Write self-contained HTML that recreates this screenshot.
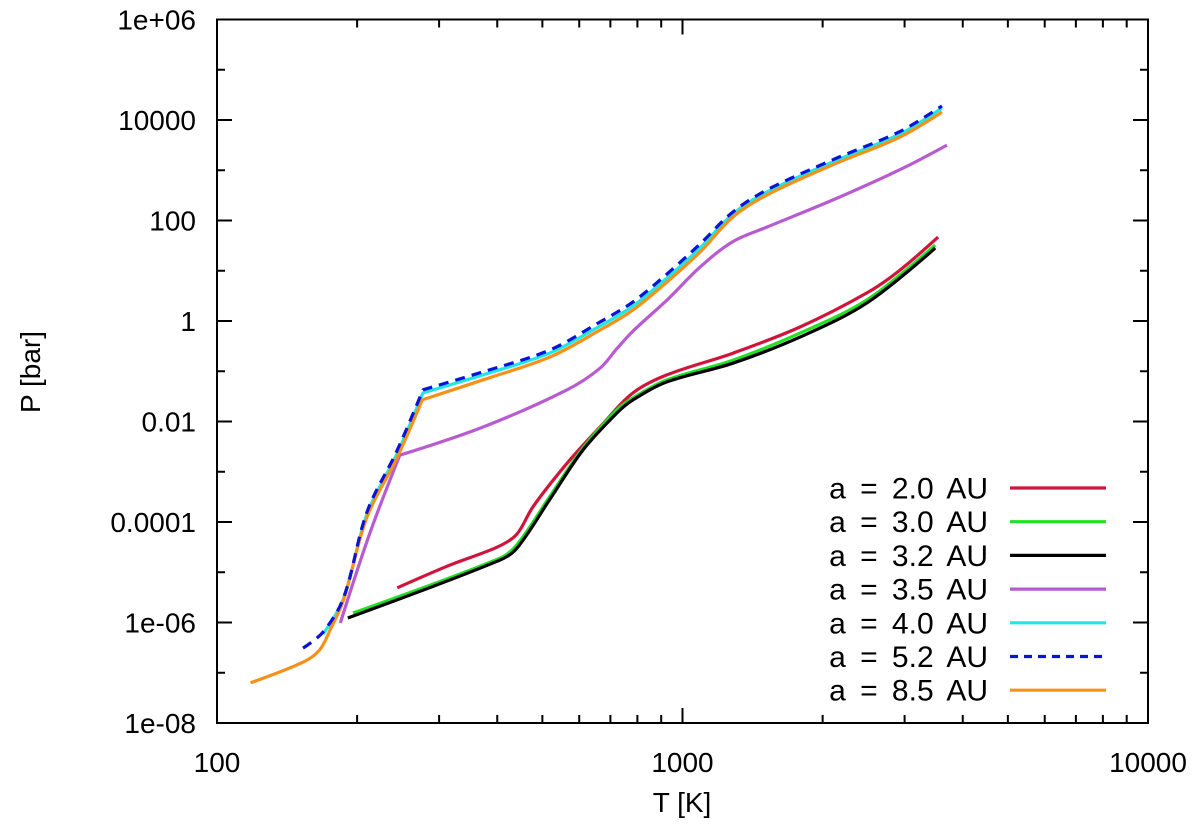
<!DOCTYPE html>
<html><head><meta charset="utf-8"><style>
html,body{margin:0;padding:0;background:#fff;}
svg{display:block;font-family:"Liberation Sans",sans-serif;}
</style></head><body>
<svg id="chart" width="1200" height="830" viewBox="0 0 1200 830" xmlns="http://www.w3.org/2000/svg">
<g id="axes"></g>
<g id="series"></g>
<g id="legend"></g>
<text x="0" y="0" transform="translate(40,372) rotate(-90)" text-anchor="middle" font-size="28">P [bar]</text>
<text x="682" y="812" text-anchor="middle" font-size="28">T [K]</text>
</svg>
<script>
const xTicks=[100,1000,10000];
const xTickLabels=["100","1000","10000"];
const yTicksLog=[6,4,2,0,-2,-4,-6,-8];
const yTickLabels=["1e+06","10000","100","1","0.01","0.0001","1e-06","1e-08"];
const seriesNames=["a = 2.0 AU","a = 3.0 AU","a = 3.2 AU","a = 3.5 AU","a = 4.0 AU","a = 5.2 AU","a = 8.5 AU"];
const T_20=[244,316,400,440,477,565,665,783,927,1283,1788,2490,2930,3540];
const logP_20=[-5.31,-4.86,-4.50,-4.25,-3.70,-2.83,-2.11,-1.43,-1.07,-0.64,-0.12,0.56,1.01,1.67];
const T_30=[196,405,441,518,611,723,783,927,1283,1788,2490,3490];
const logP_30=[-5.81,-4.72,-4.45,-3.50,-2.53,-1.77,-1.53,-1.17,-0.78,-0.24,0.42,1.51];
const T_32=[191,405,441,518,611,723,783,927,1283,1788,2490,3490];
const logP_32=[-5.91,-4.76,-4.52,-3.56,-2.57,-1.83,-1.57,-1.21,-0.84,-0.32,0.36,1.45];
const T_35=[184,213,247,373,565,665,723,783,927,1090,1283,1520,2105,2930,3700];
const logP_35=[-6.01,-4.22,-2.67,-2.11,-1.37,-0.94,-0.55,-0.20,0.42,1.07,1.58,1.87,2.41,3.01,3.50];
const T_40=[169,187,210,244,277,373,518,665,783,927,1090,1283,1520,2105,2930,3610];
const logP_40=[-6.23,-5.53,-3.84,-2.63,-1.43,-1.07,-0.64,-0.10,0.30,0.86,1.45,2.13,2.57,3.17,3.72,4.24];
const T_52=[153,169,187,210,244,277,373,518,665,783,927,1090,1283,1520,2105,2930,3610];
const logP_52=[-6.51,-6.19,-5.51,-3.80,-2.57,-1.37,-1.01,-0.58,-0.02,0.38,0.94,1.53,2.17,2.61,3.21,3.77,4.28];
const T_85=[118,153,166,175,187,210,244,276,373,518,665,783,927,1090,1283,1520,2105,2930,3610];
const logP_85=[-7.20,-6.79,-6.55,-6.15,-5.55,-3.90,-2.71,-1.57,-1.17,-0.72,-0.18,0.22,0.78,1.37,2.07,2.51,3.11,3.66,4.16];
const kneeT=[247,276,277];

const NS="http://www.w3.org/2000/svg";
const L=217,R=1148,TOP=19.5,BOT=723;
function xs(t){return L+(Math.log10(t)-2)/2*(R-L);}
function ys(lp){return TOP+(6-lp)/14*(BOT-TOP);}
function mk(tag,attrs,parent){const e=document.createElementNS(NS,tag);for(const k in attrs)e.setAttribute(k,attrs[k]);parent.appendChild(e);return e;}
function tangent(p,i,corner){
  if(corner[i]||i===0||i===p.length-1){return null;}
  const dx=p[i+1][0]-p[i-1][0],dy=p[i+1][1]-p[i-1][1];const n=Math.hypot(dx,dy)||1;return [dx/n,dy/n];
}
function smoothPath(p,corner){
  let d='M'+p[0][0].toFixed(1)+','+p[0][1].toFixed(1);
  for(let i=0;i<p.length-1;i++){
    const a=p[i],b=p[i+1];const len=Math.hypot(b[0]-a[0],b[1]-a[1])/3;
    const t1=tangent(p,i,corner),t2=tangent(p,i+1,corner);
    const c1=t1?[a[0]+t1[0]*len,a[1]+t1[1]*len]:a;
    const c2=t2?[b[0]-t2[0]*len,b[1]-t2[1]*len]:b;
    d+=` C${c1[0].toFixed(1)},${c1[1].toFixed(1)} ${c2[0].toFixed(1)},${c2[1].toFixed(1)} ${b[0].toFixed(1)},${b[1].toFixed(1)}`;
  }
  return d;
}
const axes=document.getElementById('axes');
const fr=mk('rect',{x:L,y:TOP,width:R-L,height:BOT-TOP,fill:'none',stroke:'#000','stroke-width':2},axes);


for(let d=2;d<=4;d++){
  for(let m=1;m<=9;m++){
    const v=m*Math.pow(10,d);
    if(v>10000)break;
    const x=xs(v);const len=(m===1)?15:8;
    const tk=mk('path',{d:`M${x},${BOT}V${BOT-len}M${x},${TOP}V${TOP+len}`,stroke:'#000','stroke-width':2},axes);
    
    
  }
}
xTicks.forEach((v,i)=>{
  const tx=mk('text',{x:xs(v),y:772,'text-anchor':'middle','font-size':28},axes);
  
  
  tx.textContent=xTickLabels[i];
});
for(let lp=-8;lp<=6;lp++){
  const y=ys(lp);const len=(lp%2===0)?15:8;
  const tk=mk('path',{d:`M${L},${y}H${L+len}M${R},${y}H${R-len}`,stroke:'#000','stroke-width':2},axes);
  
  
}
yTicksLog.forEach((lp,i)=>{
  const tx=mk('text',{x:196,y:ys(lp)+10,'text-anchor':'end','font-size':28},axes);
  
  
  tx.textContent=yTickLabels[i];
});
const series=[
 {T:T_20,P:logP_20,c:'#d0143c',dash:null},
 {T:T_30,P:logP_30,c:'#22e022',dash:null},
 {T:T_32,P:logP_32,c:'#000000',dash:null},
 {T:T_35,P:logP_35,c:'#b85ad0',dash:null},
 {T:T_40,P:logP_40,c:'#22e6e6',dash:null},
 {T:T_52,P:logP_52,c:'#0a14d8',dash:'10,7'},
 {T:T_85,P:logP_85,c:'#f79016',dash:null}
];
const sg=document.getElementById('series');
const lg=document.getElementById('legend');
const order=[0,1,2,3,4,6,5];
order.forEach(i=>{
  const s=series[i];
  const pts=s.T.map((t,j)=>[xs(t),ys(s.P[j])]);
  const corner=s.T.map(t=>kneeT.indexOf(t)>=0);
  const a={d:smoothPath(pts,corner),fill:'none',stroke:s.c,'stroke-width':3.2,'stroke-linejoin':'round'};
  if(s.dash)a['stroke-dasharray']=s.dash;
  const pl=mk('path',a,sg);
  
  
});
series.forEach((s,i)=>{
  const y=488+i*33.7;
  const tx=mk('text',{x:988,y:y+10.5,'text-anchor':'end','font-size':30,'word-spacing':6},lg);
  
  
  tx.textContent=seriesNames[i];
  const a={x1:1010,x2:1106,y1:y,y2:y,stroke:s.c,'stroke-width':3.2};
  if(s.dash)a['stroke-dasharray']='8,6';
  const ln=mk('line',a,lg);
  
  
});
</script>
</body></html>
